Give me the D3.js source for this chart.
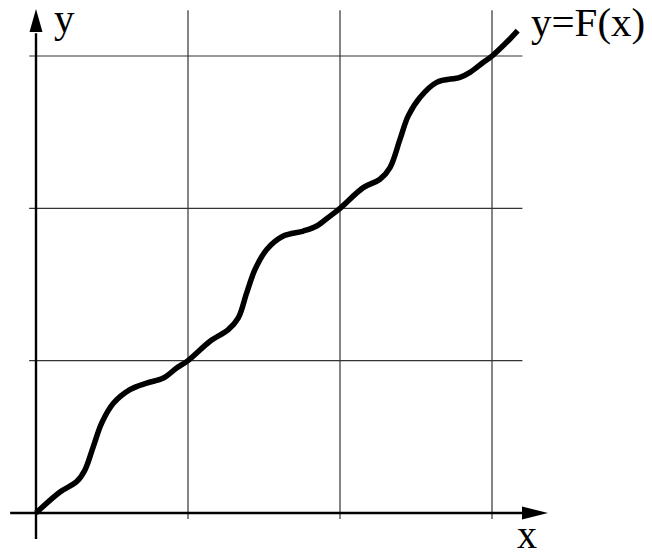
<!DOCTYPE html>
<html>
<head>
<meta charset="utf-8">
<script src="https://cdn.jsdelivr.net/npm/d3@7"></script>
<style>
html,body{margin:0;padding:0;background:#fff;}
svg{display:block;}
text{font-family:"Liberation Serif","Times New Roman",serif;fill:#000;}
</style>
</head>
<body>
<svg id="chart" width="652" height="553"></svg>
<script>
// Curve points
const xValues = [0,0.158,0.268,0.322,0.377,0.432,0.509,0.618,0.728,0.838,0.925,1,
  1.145,1.265,1.331,1.386,1.441,1.518,1.627,1.759,1.847,1.934,2,
  2.153,2.263,2.329,2.395,2.449,2.526,2.636,2.789,2.855,2.943,3,3.118,3.169];
const yValues = [0,0.138,0.206,0.283,0.436,0.59,0.72,0.81,0.853,0.886,0.952,1,
  1.127,1.204,1.281,1.445,1.599,1.730,1.818,1.851,1.884,1.949,2,
  2.136,2.191,2.268,2.454,2.607,2.728,2.827,2.860,2.893,2.959,3,3.112,3.166];
const gridValues = [1,2,3];
const xLabel = "x", yLabel = "y", curveLabel = "y=F(x)";

const svg = d3.select("#chart");
const x = d3.scaleLinear().domain([0,3]).range([36,492]);
const y = d3.scaleLinear().domain([0,3]).range([513,56]);

// grid
const g = svg.append("g");
g.selectAll("line.v").data(gridValues).join("line")
  .attr("x1", d=>x(d)).attr("x2", d=>x(d))
  .attr("y1", y(3.3)).attr("y2", y(-0.04))
  .attr("stroke","#333").attr("stroke-width",1.2);
g.selectAll("line.h").data(gridValues).join("line")
  .attr("y1", d=>y(d)).attr("y2", d=>y(d))
  .attr("x1", x(-0.045)).attr("x2", x(3.2))
  .attr("stroke","#333").attr("stroke-width",1.2);

// axes
svg.append("line").attr("x1", x(0)).attr("x2", x(0))
  .attr("y1", y(-0.17)).attr("y2", y(3.15))
  .attr("stroke","#000").attr("stroke-width",2.4);
svg.append("line").attr("y1", y(0)).attr("y2", y(0))
  .attr("x1", x(-0.17)).attr("x2", x(3.25))
  .attr("stroke","#000").attr("stroke-width",2.4);
// arrow heads
const yx = x(0), tipY = 9;
svg.append("path").attr("d", `M${yx},${tipY} L${yx-6.5},${tipY+23} L${yx+6.5},${tipY+23} Z`).attr("fill","#000");
const xy = y(0), tipX = 548;
svg.append("path").attr("d", `M${tipX},${xy} L${tipX-26},${xy-6.5} L${tipX-26},${xy+6.5} Z`).attr("fill","#000");

// curve
const pts = xValues.map((v,i)=>[v, yValues[i]]);
const line = d3.line().x(d=>x(d[0])).y(d=>y(d[1])).curve(d3.curveCatmullRom.alpha(0.5));
svg.append("path").datum(pts).attr("d", line)
  .attr("fill","none").attr("stroke","#000").attr("stroke-width",5.5)
  .attr("stroke-linecap","butt").attr("stroke-linejoin","round");

// labels
svg.append("text").attr("x",54).attr("y",32).attr("font-size",41).text(yLabel);
svg.append("text").attr("x",517).attr("y",548).attr("font-size",40).text(xLabel);
svg.append("text").attr("x",531).attr("y",36).attr("font-size",41).text(curveLabel);
</script>
</body>
</html>
